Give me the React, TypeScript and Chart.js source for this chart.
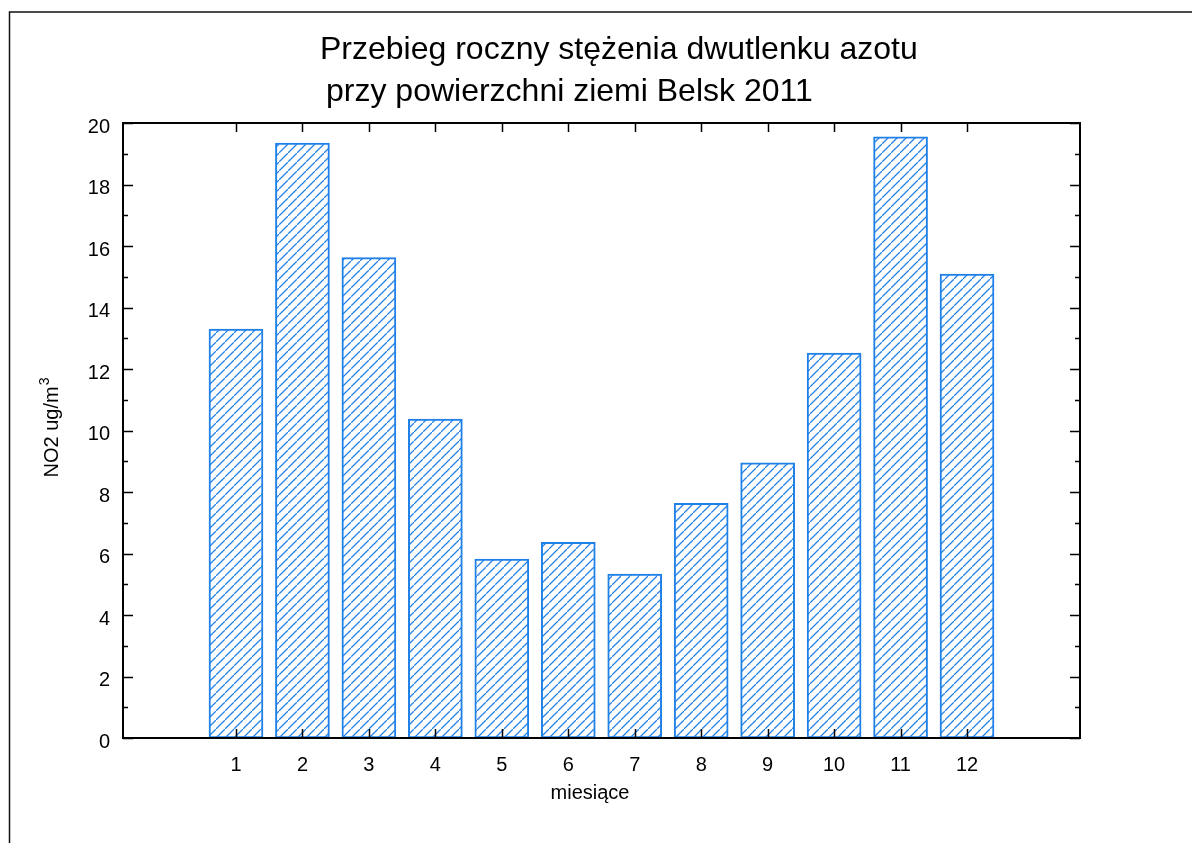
import { useEffect, useRef } from 'react';
import { Chart, registerables } from 'chart.js';

Chart.register(...registerables);

// Monthly mean NO2 concentration, Belsk 2011
const months = [1, 2, 3, 4, 5, 6, 7, 8, 9, 10, 11, 12];
const no2 = [13.3, 19.35, 15.62, 10.37, 5.82, 6.36, 5.33, 7.63, 8.95, 12.52, 19.55, 15.09];
const yTicks = [0, 2, 4, 6, 8, 10, 12, 14, 16, 18, 20];
const titleLines = ['Przebieg roczny stężenia dwutlenku azotu', 'przy powierzchni ziemi Belsk 2011'];
const xTitle = 'miesiące';
const yTitle = 'NO2 ug/m';
const yTitleSup = '3';

const FONT = '"Liberation Sans", Arial, sans-serif';
const BLUE = '#1f80e8';

function makeHatch(): CanvasPattern | string {
  const size = 9;
  const c = document.createElement('canvas');
  c.width = size;
  c.height = size;
  const g = c.getContext('2d');
  if (!g) return '#ffffff';
  g.fillStyle = '#ffffff';
  g.fillRect(0, 0, size, size);
  g.strokeStyle = '#2583e8';
  g.lineWidth = 1.3;
  g.beginPath();
  g.moveTo(-1, size + 1);
  g.lineTo(size + 1, -1);
  g.moveTo(-2, 1);
  g.lineTo(1, -2);
  g.moveTo(size - 1, size + 2);
  g.lineTo(size + 2, size - 1);
  g.stroke();
  const p = g.createPattern(c, 'repeat');
  return p || '#ffffff';
}

const framePlugin = {
  id: 'frameAndLabels',
  afterDraw(chart: any) {
    const { ctx, chartArea } = chart;
    const { left, right, top, bottom } = chartArea;
    const xs = chart.scales.x;
    const ys = chart.scales.y;
    ctx.save();

    // tick marks on all four sides, pointing inward
    ctx.strokeStyle = '#000';
    ctx.lineWidth = 1.5;
    ctx.beginPath();
    for (let v = 0; v <= 20; v++) {
      const py = Math.round(ys.getPixelForValue(v)) + 0.5;
      const len = v % 2 === 0 ? 10 : 5;
      ctx.moveTo(left, py);
      ctx.lineTo(left + len, py);
      ctx.moveTo(right, py);
      ctx.lineTo(right - len, py);
    }
    for (const m of months) {
      const px = Math.round(xs.getPixelForValue(m)) + 0.5;
      ctx.moveTo(px, bottom);
      ctx.lineTo(px, bottom - 9);
      ctx.moveTo(px, top);
      ctx.lineTo(px, top + 9);
    }
    ctx.stroke();

    // plot box
    ctx.lineWidth = 2;
    ctx.strokeRect(left, top, right - left, bottom - top);

    // tick labels
    ctx.fillStyle = '#000';
    ctx.font = `20px ${FONT}`;
    ctx.textAlign = 'right';
    ctx.textBaseline = 'middle';
    for (const v of yTicks) {
      ctx.fillText(String(v), left - 13, ys.getPixelForValue(v) + 4);
    }
    ctx.textAlign = 'center';
    for (const m of months) {
      ctx.fillText(String(m), xs.getPixelForValue(m), 765);
    }

    // axis titles
    ctx.font = `20px ${FONT}`;
    ctx.textBaseline = 'alphabetic';
    ctx.fillText(xTitle, 590, 799);

    ctx.save();
    ctx.translate(58, 428);
    ctx.rotate(-Math.PI / 2);
    ctx.font = `20px ${FONT}`;
    const wMain = ctx.measureText(yTitle).width;
    ctx.font = `14px ${FONT}`;
    const wSup = ctx.measureText(yTitleSup).width;
    const x0 = -(wMain + wSup) / 2;
    ctx.textAlign = 'left';
    ctx.font = `20px ${FONT}`;
    ctx.fillText(yTitle, x0, 0);
    ctx.font = `14px ${FONT}`;
    ctx.fillText(yTitleSup, x0 + wMain + 1, -9);
    ctx.restore();

    // chart title
    ctx.font = `32px ${FONT}`;
    ctx.textAlign = 'left';
    ctx.textBaseline = 'alphabetic';
    ctx.fillText(titleLines[0], 320, 59);
    ctx.fillText(titleLines[1], 326, 101);

    // outer frame
    ctx.strokeStyle = '#111';
    ctx.lineWidth = 1.5;
    ctx.beginPath();
    ctx.moveTo(9.5, 843);
    ctx.lineTo(9.5, 12);
    ctx.lineTo(1192, 12);
    ctx.stroke();

    ctx.restore();
  },
};

export default function App() {
  const canvasRef = useRef<HTMLCanvasElement | null>(null);

  useEffect(() => {
    const canvas = canvasRef.current;
    if (!canvas) return;
    const chart = new Chart(canvas, {
      type: 'bar',
      data: {
        datasets: [
          {
            data: months.map((m, i) => ({ x: m, y: no2[i] })),
            backgroundColor: makeHatch() as any,
            borderColor: BLUE,
            borderWidth: 2,
            borderSkipped: false,
            barThickness: 54,
          },
        ],
      },
      options: {
        responsive: false,
        animation: false,
        layout: { padding: { left: 123, top: 123, right: 112, bottom: 105 } },
        plugins: {
          legend: { display: false },
          tooltip: { enabled: false },
          title: { display: false },
        },
        scales: {
          x: { type: 'linear', min: -0.7, max: 13.7, offset: false, display: false },
          y: { min: 0, max: 20, display: false },
        },
      },
      plugins: [framePlugin],
    });
    return () => chart.destroy();
  }, []);

  return (
    <div style={{ position: 'absolute', left: 0, top: 0, width: 1192, height: 843, background: '#fff' }}>
      <canvas ref={canvasRef} width={1192} height={843} style={{ display: 'block' }} />
    </div>
  );
}
